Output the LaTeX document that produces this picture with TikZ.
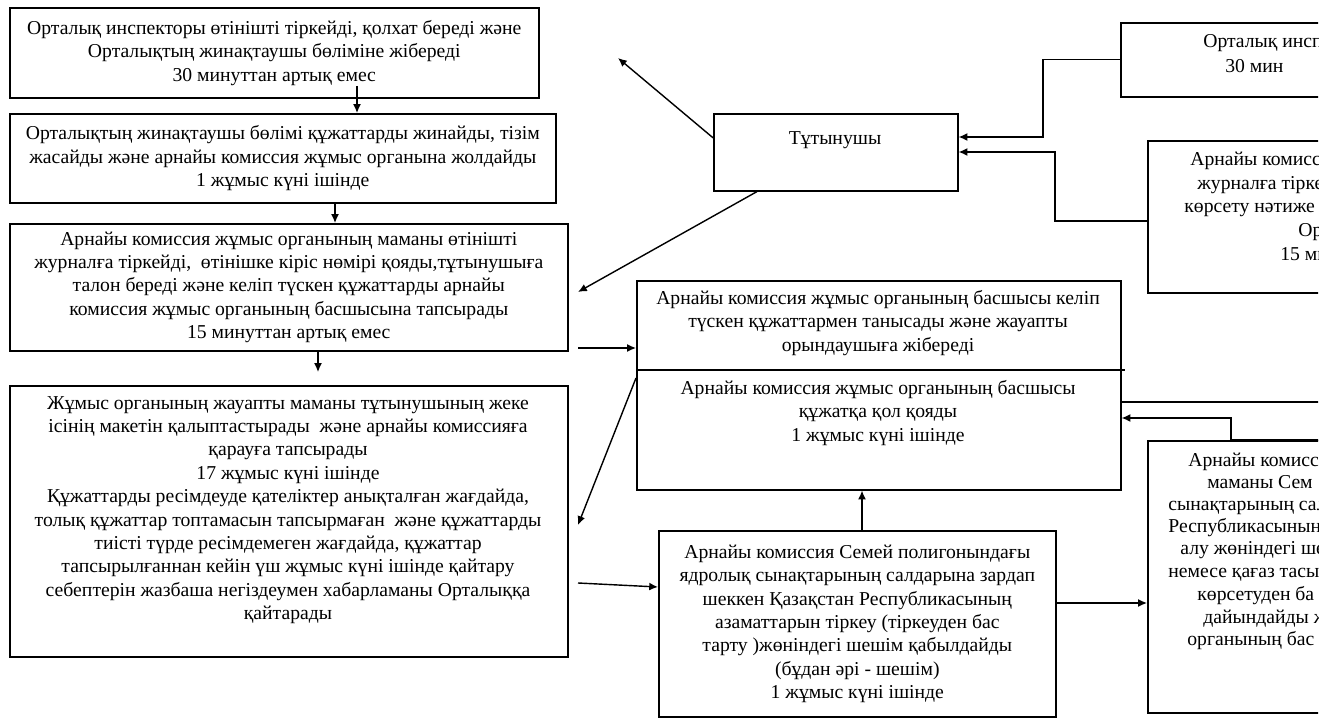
\documentclass[tikz,border=0pt]{standalone}
\usepackage{fontspec}
\setmainfont{Liberation Serif}
\usetikzlibrary{arrows.meta}
\newcommand\boxfont{\fontsize{11.2}{13.3}\selectfont}
\tikzset{
  box/.style={draw, line width=0.9pt, anchor=north west, align=center, inner sep=0pt, font=\boxfont},
  txt/.style={align=center, inner sep=0pt, font=\boxfont},
  frag/.style={anchor=base west, inner sep=0pt, font=\boxfont},
  arr/.style={-{Latex[length=5pt,width=4.5pt]}, line width=0.8pt},
  lin/.style={line width=0.8pt},
}
\begin{document}
\begin{tikzpicture}[x=0.02cm, y=-0.02cm]
  \useasboundingbox (0,0) rectangle (1336,719);
  \clip (0,0) rectangle (1318,719);
  \node[box, minimum width=529*0.02cm, minimum height=90*0.02cm] (A) at (9,7)
    {Орталық инспекторы өтінішті тіркейді, қолхат береді және\\
     Орталықтың жинақтаушы бөліміне жібереді\\
     30 минуттан артық емес};
  \node[box, minimum width=546*0.02cm, minimum height=89*0.02cm] (B) at (9,113)
    {Орталықтың жинақтаушы бөлімі құжаттарды жинайды, тізім\\
     жасайды және арнайы комиссия жұмыс органына жолдайды\\
     1 жұмыс күні ішінде};
  \node[box, minimum width=558*0.02cm, minimum height=127*0.02cm] (C) at (9,223)
    {Арнайы комиссия жұмыс органының маманы өтінішті\\
     журналға тіркейді,~ өтінішке кіріс нөмірі қояды,тұтынушыға\\
     талон береді және келіп түскен құжаттарды арнайы\\
     комиссия жұмыс органының басшысына тапсырады\\
     15 минуттан артық емес};
  \node[box, minimum width=558*0.02cm, minimum height=271*0.02cm] (D) at (9,385) {};
  \node[txt] (Dt) at (288,510)
    {Жұмыс органының жауапты маманы тұтынушының жеке\\
     ісінің макетін қалыптастырады~ және арнайы комиссияға\\
     қарауға тапсырады\\
     17 жұмыс күні ішінде\\
     Құжаттарды ресімдеуде қателіктер анықталған жағдайда,\\
     толық құжаттар топтамасын тапсырмаған~ және құжаттарды\\
     тиісті түрде ресімдемеген жағдайда, құжаттар\\
     тапсырылғаннан кейін үш жұмыс күні ішінде қайтару\\
     себептерін жазбаша негіздеумен хабарламаны Орталыққа\\
     қайтарады};
  \node[box, minimum width=244*0.02cm, minimum height=77*0.02cm] (T) at (713,113) {};
  \node[txt] (Tt) at (835,140) {Тұтынушы};
  \node[box, minimum width=484*0.02cm, minimum height=209*0.02cm] (E) at (636,280) {};
  \node[txt] (E1) at (878,323)
    {Арнайы комиссия жұмыс органының басшысы келіп\\
     түскен құжаттармен танысады және жауапты\\
     орындаушыға жібереді};
  \node[txt] (E2) at (878,413)
    {Арнайы комиссия жұмыс органының басшысы\\
     құжатқа қол қояды\\
     1 жұмыс күні ішінде};
  \node[box, minimum width=397*0.02cm, minimum height=186*0.02cm] (F) at (658,530)
    {Арнайы комиссия Семей полигонындағы\\
     ядролық сынақтарының салдарына зардап\\
     шеккен Қазақстан Республикасының\\
     азаматтарын тіркеу (тіркеуден бас\\
     тарту )жөніндегі шешім қабылдайды\\
     (бұдан әрі - шешім)\\
     1 жұмыс күні ішінде};
  \node[box, minimum width=400*0.02cm, minimum height=74*0.02cm] (R1) at (1120,22) {};
  \node[box, minimum width=400*0.02cm, minimum height=152*0.02cm] (R2) at (1147,140) {};
  \node[box, minimum width=400*0.02cm, minimum height=272*0.02cm] (R3) at (1147,440) {};
  \foreach \x/\y/\t [count=\i] in {1203/48/Орталық инсп, 1225/73/30 мин}
    \node[frag] (r1-\i) at (\x,\y) {\t};
  \foreach \x/\y/\t [count=\i] in {1190/166/Арнайы комисс, 1197/190/журналға тірке,
      1184/213/көрсету нәтиже, 1298/237/Орт, 1280/261/15 ми}
    \node[frag] (r2-\i) at (\x,\y) {\t};
  \foreach \x/\y/\t [count=\i] in {1188/467/Арнайы комисс, 1207/489/маманы Сем,
      1168/511/сынақтарының сал, 1168/533/Республикасының, 1180/555/алу жөніндегі ше,
      1168/578/немесе қағаз тасы, 1197/601/көрсетуден ба, 1203/623/дайындайды ж,
      1187/645/органының бас}
    \node[frag] (r3-\i) at (\x,\y) {\t};

  \draw[lin] (E.west |- 0,370) -- ++(489,0);

  \coordinate (xab) at (357,86);
  \coordinate (xbc) at (335,0);
  \coordinate (xcd) at (318,372);
  \coordinate (yce) at (578,348);
  \coordinate (tout) at (618,58);
  \coordinate (xtc) at (757,0);
  \coordinate (tin) at (578,292);
  \coordinate (yed) at (0,378);
  \coordinate (ed) at (578,525);
  \coordinate (df) at (578,583);
  \coordinate (ydf) at (0,587);
  \coordinate (xfe) at (862,0);
  \coordinate (yfr) at (0,603);
  \coordinate (c1) at (1043,137);
  \coordinate (y2) at (0,221);
  \coordinate (c2) at (1055,152);
  \coordinate (c3) at (1330,402);
  \coordinate (c4) at (1231,418);

  \draw[arr] (xab) -- (xab |- B.north);
  \draw[arr] (B.south -| xbc) -- (C.north -| xbc);
  \draw[arr] (C.south -| xcd) -- (xcd);
  \draw[arr] (yce) -- (yce -| E.west);
  \draw[arr] ([yshift=0.29cm]T.west) -- (tout);
  \draw[arr] (T.south -| xtc) -- (tin);
  \draw[arr] (E.west |- yed) -- (ed);
  \draw[arr] (df) -- (F.west |- ydf);
  \draw[arr] (F.north -| xfe) -- (E.south -| xfe);
  \draw[arr] (F.east |- yfr) -- (R3.west |- yfr);
  \draw[arr] (R1.west) -| (c1) -- (c1 -| T.east);
  \draw[arr] (R2.west |- y2) -| (c2) -- (c2 -| T.east);
  \draw[lin] (c3 -| E.east) -- (c3);
  \draw[arr] (R3.north east) -| (c4) -- (c4 -| E.east);
\end{tikzpicture}
\end{document}
